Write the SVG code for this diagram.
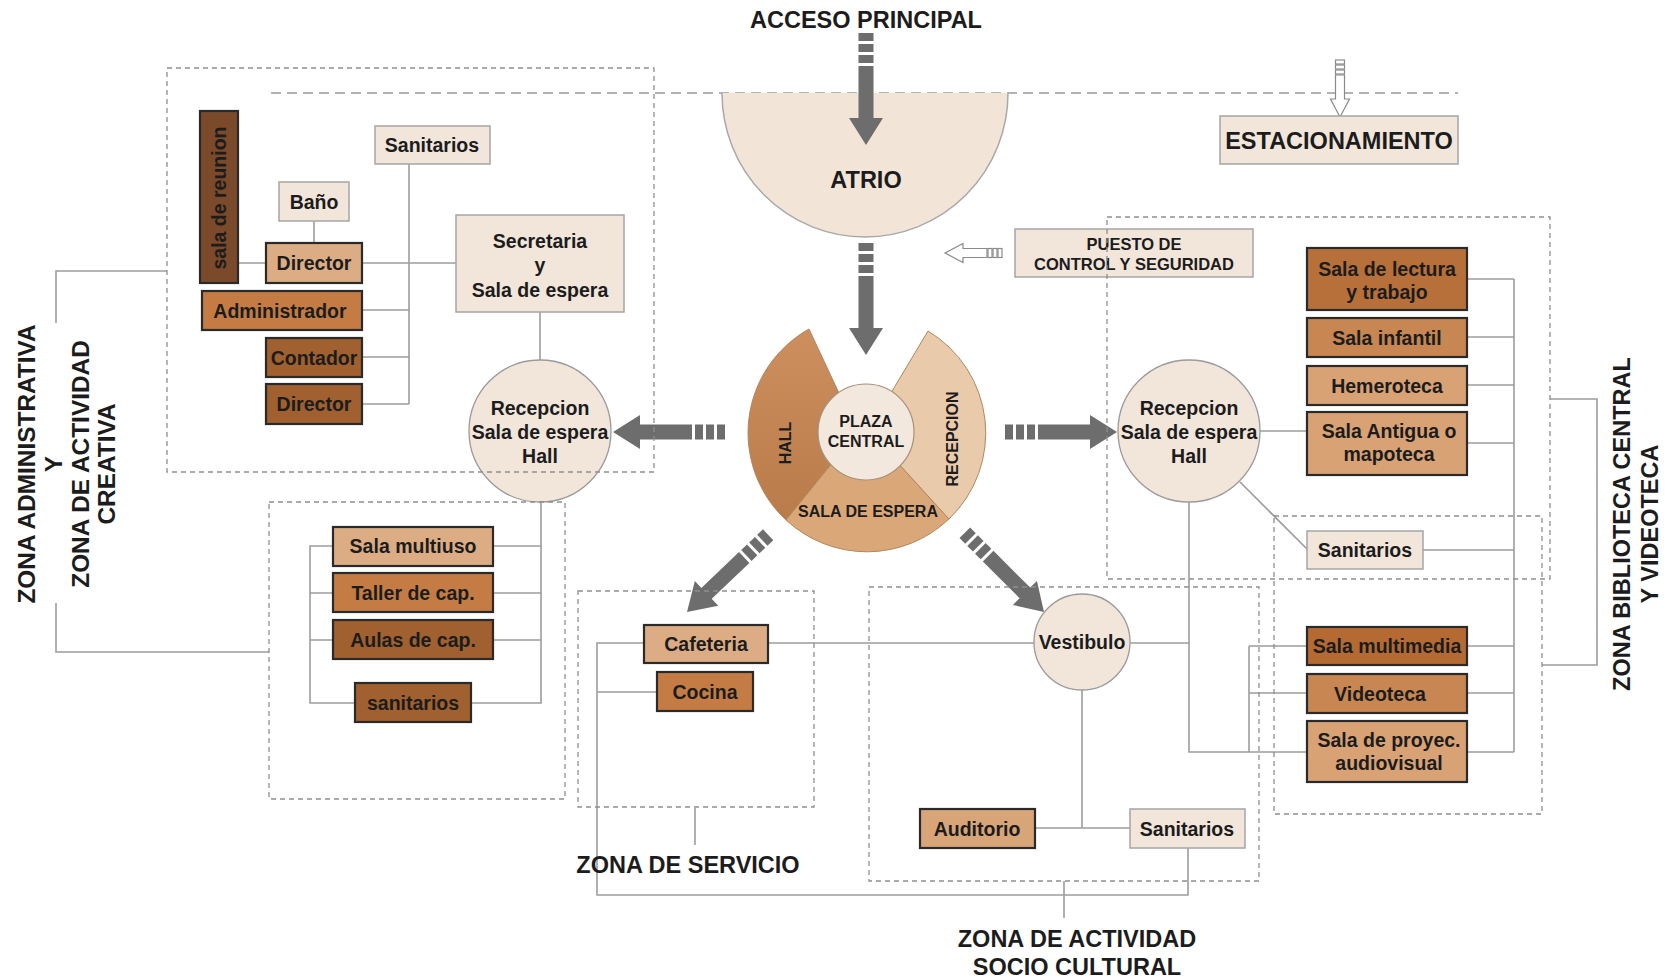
<svg xmlns="http://www.w3.org/2000/svg" xmlns:xlink="http://www.w3.org/1999/xlink" width="1667" height="979" viewBox="0 0 1667 979">
<style>
.z{fill:none;stroke:#8e8e8e;stroke-width:1.3;stroke-dasharray:5 4}
.c{fill:none;stroke:#9d9d9d;stroke-width:1.6}
.lt{fill:#f2e6db;stroke:#a5a5a5;stroke-width:1.5}
.cir{fill:#f2e6db;stroke:#9a9a9a;stroke-width:1.3}
.bx{stroke:#2a2a2a;stroke-width:2.2}
.b1{fill:#dcad84}
.b2{fill:#c47c44}
.b3{fill:#a0602f}
.b4{fill:#7a4a2b}
.r1{fill:#b8703a}
.r2{fill:#c78652}
.r3{fill:#d9a275}
.t{font-family:"Liberation Sans",Arial,sans-serif;font-weight:bold;font-size:19.5px;fill:#1c1c1c;text-anchor:middle}
.L{font-size:23.5px}
.s{font-size:16px}
.p{font-size:16.5px}
.zl{font-size:24.4px}
.ga{fill:#6d6d6d}
.ha{fill:#fff;stroke:#8a8a8a;stroke-width:1.2}
</style>
<defs>
<linearGradient id="hallg" x1="0" y1="0" x2="0" y2="1">
<stop offset="0" stop-color="#cc8f5d"/>
<stop offset="1" stop-color="#b97b4a"/>
</linearGradient>
<g id="garrow" class="ga">
<polygon points="0,0 -27,-17 -27,-7.5 -79,-7.5 -79,7.5 -27,7.5 -27,17"/>
<rect x="-90" y="-7.5" width="8" height="15"/>
<rect x="-101" y="-7.5" width="8" height="15"/>
<rect x="-112" y="-7.5" width="8" height="15"/>
</g>
<g id="harrow" class="ha">
<polygon points="0,0 -18,-9.5 -18,-4.5 -42,-4.5 -42,4.5 -18,4.5 -18,9.5"/>
<rect x="-47" y="-4.5" width="4" height="9"/>
<rect x="-52" y="-4.5" width="4" height="9"/>
<rect x="-57" y="-4.5" width="4" height="9"/>
</g>
</defs>
<rect width="1667" height="979" fill="#fff"/>

<!-- long dashed line -->
<path d="M271 93 H1458" fill="none" stroke="#9a9a9a" stroke-width="1.5" stroke-dasharray="10 6"/>

<g id="connectors">
<!-- admin -->
<path class="c" d="M238 263 H266 M314 221 V243 M362 263 H456 M409 164 V404 M362 310 H409 M362 357 H409 M362 404 H409 M540 312 V360"/>
<path class="c" d="M167 271 H56 V323 M56 603 V652 H269"/>
<!-- activity -->
<path class="c" d="M333 546 H310 V703 H355 M310 593 H333 M310 640 H333"/>
<path class="c" d="M541 502 V703 H471 M493 546 H541 M493 593 H541 M493 640 H541"/>
<!-- service / socio -->
<path class="c" d="M768 643 H1034 M1130 643 H1189"/>
<path class="c" d="M644 643 H597 V895 H1188 V847 M597 692 H657"/>
<path class="c" d="M1082 690 V828 M1035 828 H1130"/>
<path class="c" d="M695 808 V845 M1064 881 V918"/>
<!-- biblioteca -->
<path class="c" d="M1260 431 H1307 M1240 482 L1308 550 M1189 502 V752 H1307 M1249 646 V752 M1249 646 H1307 M1249 693 H1307"/>
<path class="c" d="M1514 279 V752 M1467 279 H1514 M1467 337 H1514 M1467 385 H1514 M1467 443 H1514 M1423 550 H1514 M1467 646 H1514 M1467 693 H1514 M1467 752 H1514"/>
<path class="c" d="M1550 399 H1597 V665 H1542"/>
<!-- arrows -->
<use href="#garrow" transform="translate(866,355) rotate(90)"/>
<use href="#garrow" transform="translate(613,432) rotate(180)"/>
<use href="#garrow" transform="translate(1117,432)"/>
<use href="#garrow" transform="translate(687,612) rotate(136.4)"/>
<use href="#garrow" transform="translate(1044,612) rotate(45)"/>
<use href="#harrow" transform="translate(1340,117) rotate(90)"/>
<use href="#harrow" transform="translate(945,253) rotate(180)"/>
</g>

<g id="acceso"><text class="t L" x="866" y="28">ACCESO PRINCIPAL</text></g>

<g id="atrio">
<path d="M722 93 A143 144 0 0 0 1008 93 Z" fill="#f2e5d8"/>
<path d="M722 93 A143 144 0 0 0 1008 93" fill="none" stroke="#a8a8a8" stroke-width="1.5"/>
<text class="t L" x="866" y="188">ATRIO</text>
</g>
<use href="#garrow" transform="translate(866,145) rotate(90)"/>

<g id="estacionamiento">
<rect class="lt" x="1220" y="116" width="238" height="48"/>
<text class="t L" x="1339" y="149">ESTACIONAMIENTO</text>
</g>

<g id="puesto">
<rect class="lt" x="1015" y="229" width="238" height="48"/>
<text class="t p" x="1134" y="250">PUESTO DE</text>
<text class="t p" x="1134" y="270">CONTROL Y SEGURIDAD</text>
</g>

<g id="centro">
<path d="M809 329 A119 119 0 0 0 786 520 L832.5 462.5 A46 46 0 0 1 838.6 392.3 Z" fill="url(#hallg)" stroke="#b0875f" stroke-width="1"/>
<path d="M786 520 A119 119 0 0 0 949 519 L897.5 462.5 A46 46 0 0 1 832.5 462.5 Z" fill="#daa878" stroke="#b0875f" stroke-width="1"/>
<path d="M949 519 A119 119 0 0 0 928 331 L891.4 392.3 A46 46 0 0 1 897.5 462.5 Z" fill="#e9caab" stroke="#b0875f" stroke-width="1"/>
<circle cx="866" cy="432" r="48" fill="#f3e8dd" stroke="#a89078" stroke-width="1.2"/>
<text class="t s" x="866" y="427">PLAZA</text>
<text class="t s" x="866" y="447">CENTRAL</text>
<text class="t s" x="868" y="517">SALA DE ESPERA</text>
<text class="t s" transform="translate(791,443) rotate(-90)">HALL</text>
<text class="t s" transform="translate(958,439) rotate(-90)">RECEPCION</text>
</g>

<!-- admin zone -->
<g id="sala-reunion">
<rect class="bx b4" x="200" y="111" width="38" height="172"/>
<text class="t" transform="translate(226,198) rotate(-90)">sala de reunion</text>
</g>
<g id="sanitarios-admin"><rect class="lt" x="375" y="126" width="115" height="38"/><text class="t" x="432" y="152">Sanitarios</text></g>
<g id="bano"><rect class="lt" x="279" y="182" width="70" height="39"/><text class="t" x="314" y="209">Baño</text></g>
<g id="director1"><rect class="bx b1" x="266" y="243" width="96" height="40"/><text class="t" x="314" y="270">Director</text></g>
<g id="administrador"><rect class="bx b2" x="202" y="291" width="160" height="39"/><text class="t" x="280" y="318">Administrador</text></g>
<g id="contador"><rect class="bx b3" x="266" y="338" width="96" height="39"/><text class="t" x="314" y="365">Contador</text></g>
<g id="director2"><rect class="bx b3" x="266" y="384" width="96" height="40"/><text class="t" x="314" y="411">Director</text></g>
<g id="secretaria">
<rect class="lt" x="456" y="215" width="168" height="97"/>
<text class="t" x="540" y="248">Secretaria</text>
<text class="t" x="540" y="272">y</text>
<text class="t" x="540" y="297">Sala de espera</text>
</g>
<g id="recepcion-izq">
<circle class="cir" cx="540" cy="431" r="71"/>
<text class="t" x="540" y="415">Recepcion</text>
<text class="t" x="540" y="439">Sala de espera</text>
<text class="t" x="540" y="463">Hall</text>
</g>

<!-- activity creativa -->
<g id="sala-multiuso"><rect class="bx b1" x="333" y="527" width="160" height="39"/><text class="t" x="413" y="553">Sala multiuso</text></g>
<g id="taller"><rect class="bx b2" x="333" y="573" width="160" height="39"/><text class="t" x="413" y="600">Taller de cap.</text></g>
<g id="aulas"><rect class="bx b3" x="333" y="620" width="160" height="39"/><text class="t" x="413" y="647">Aulas de cap.</text></g>
<g id="sanitarios-act"><rect class="bx b3" x="355" y="683" width="116" height="39"/><text class="t" x="413" y="710">sanitarios</text></g>

<!-- servicio -->
<g id="cafeteria"><rect class="bx b1" x="644" y="625" width="124" height="38"/><text class="t" x="706" y="651">Cafeteria</text></g>
<g id="cocina"><rect class="bx b2" x="657" y="672" width="96" height="39"/><text class="t" x="705" y="699">Cocina</text></g>

<!-- socio cultural -->
<g id="vestibulo"><ellipse class="cir" cx="1082" cy="642" rx="48" ry="48"/><text class="t" x="1082" y="649">Vestibulo</text></g>
<g id="auditorio"><rect class="bx" fill="#d8a578" x="920" y="809" width="115" height="39"/><text class="t" x="977" y="836">Auditorio</text></g>
<g id="sanitarios-socio"><rect class="lt" x="1130" y="809" width="115" height="39"/><text class="t" x="1187" y="836">Sanitarios</text></g>

<!-- biblioteca -->
<g id="recepcion-der">
<circle class="cir" cx="1189" cy="431" r="71"/>
<text class="t" x="1189" y="415">Recepcion</text>
<text class="t" x="1189" y="439">Sala de espera</text>
<text class="t" x="1189" y="463">Hall</text>
</g>
<g id="sala-lectura"><rect class="bx r1" x="1307" y="248" width="160" height="62"/><text class="t" x="1387" y="276">Sala de lectura</text><text class="t" x="1387" y="299">y trabajo</text></g>
<g id="sala-infantil"><rect class="bx r2" x="1307" y="318" width="160" height="39"/><text class="t" x="1387" y="345">Sala infantil</text></g>
<g id="hemeroteca"><rect class="bx r3" x="1307" y="366" width="160" height="39"/><text class="t" x="1387" y="393">Hemeroteca</text></g>
<g id="sala-antigua"><rect class="bx r3" x="1307" y="412" width="160" height="63"/><text class="t" x="1389" y="438">Sala Antigua o</text><text class="t" x="1389" y="461">mapoteca</text></g>
<g id="sanitarios-bib"><rect class="lt" x="1307" y="531" width="116" height="38"/><text class="t" x="1365" y="557">Sanitarios</text></g>
<g id="sala-multimedia"><rect class="bx" fill="#b56a34" x="1307" y="627" width="160" height="38"/><text class="t" x="1387" y="653">Sala multimedia</text></g>
<g id="videoteca"><rect class="bx r2" x="1307" y="674" width="160" height="39"/><text class="t" x="1380" y="701">Videoteca</text></g>
<g id="sala-proyec"><rect class="bx r3" x="1307" y="721" width="160" height="61"/><text class="t" x="1389" y="747">Sala de proyec.</text><text class="t" x="1389" y="770">audiovisual</text></g>

<!-- zones -->
<g id="zonas">
<rect class="z" x="167" y="68" width="487" height="404"/>
<rect class="z" x="269" y="502" width="296" height="297"/>
<rect class="z" x="578" y="591" width="236" height="216"/>
<rect class="z" x="869" y="587" width="390" height="294"/>
<rect class="z" x="1107" y="217" width="443" height="362"/>
<rect class="z" x="1274" y="516" width="268" height="298"/>
</g>

<g id="labels">
<text class="t zl" transform="translate(35,464) rotate(-90)">ZONA ADMINISTRATIVA</text>
<text class="t zl" transform="translate(62,464) rotate(-90)">Y</text>
<text class="t zl" transform="translate(89,464) rotate(-90)">ZONA DE ACTIVIDAD</text>
<text class="t zl" transform="translate(115,464) rotate(-90)">CREATIVA</text>
<text class="t L" transform="translate(1630,524) rotate(-90)">ZONA BIBLIOTECA CENTRAL</text>
<text class="t L" transform="translate(1658,524) rotate(-90)">Y VIDEOTECA</text>
<text class="t L" x="688" y="873">ZONA DE SERVICIO</text>
<text class="t L" x="1077" y="947">ZONA DE ACTIVIDAD</text>
<text class="t L" x="1077" y="975">SOCIO CULTURAL</text>
</g>
</svg>
